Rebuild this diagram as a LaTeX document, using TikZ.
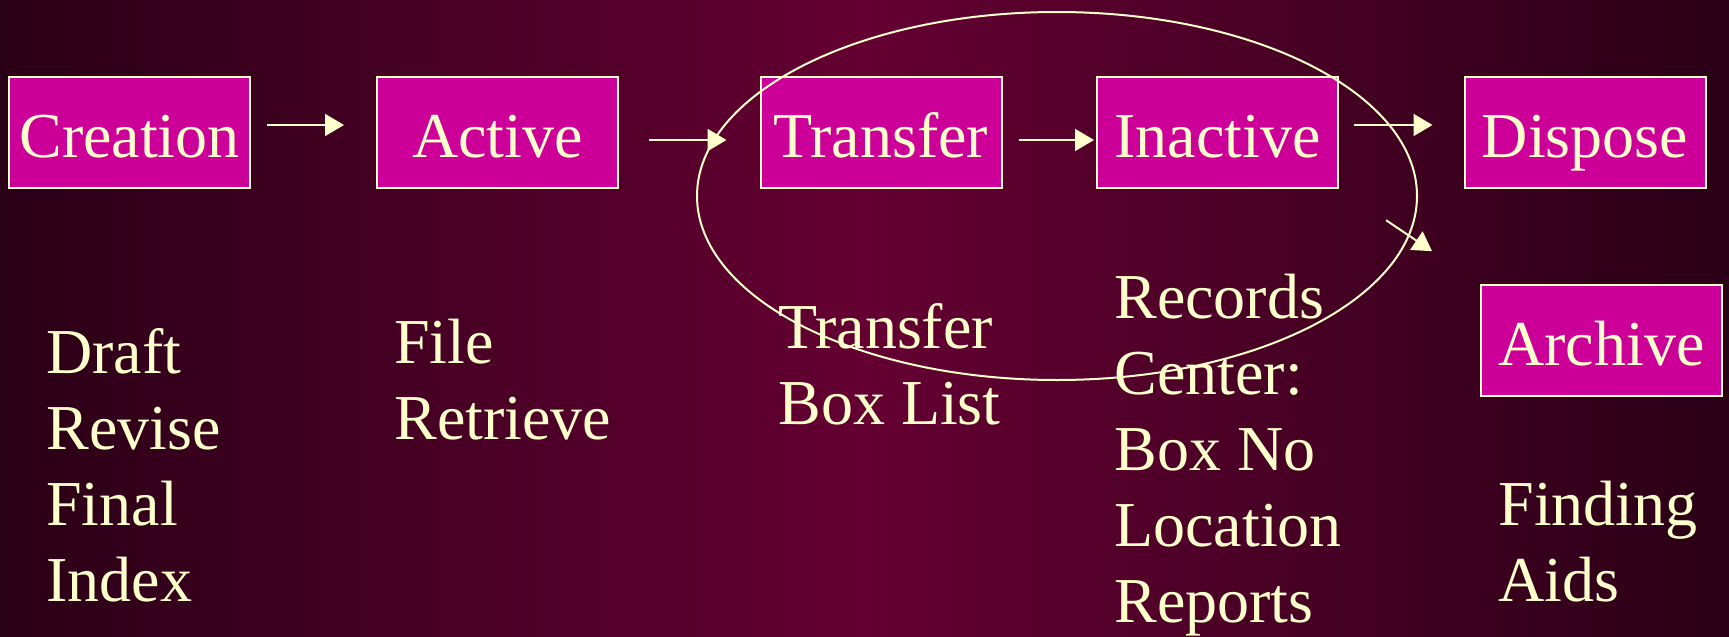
\documentclass[tikz,border=0pt]{standalone}
\usepackage{fontspec}
\setmainfont{Liberation Serif}
\usetikzlibrary{shapes.geometric,arrows.meta}
\definecolor{bgedge}{RGB}{42,0,22}
\definecolor{bgmid}{RGB}{100,0,50}
\definecolor{boxfill}{RGB}{204,0,153}
\definecolor{cream}{RGB}{255,255,204}

\begin{document}
\begin{tikzpicture}[x=0.5pt,y=-0.5pt,
  stage/.style={draw=cream, fill=boxfill, line width=1pt,
    minimum width=120.5pt, minimum height=55.5pt, inner sep=0pt,
    text=cream, font=\fontsize{32}{38}\selectfont,
    text height=25pt, text depth=0pt},
  % anchored at the baseline of the last line
  notes/.style={anchor=base west, inner sep=0pt, align=left,
    text=cream, font=\fontsize{32}{38}\selectfont},
  flow/.style={draw=cream, line width=1pt,
    -{Triangle[length=9.5pt,width=11pt]}},
]
% background
\shade[left color=bgedge, right color=bgedge, middle color=bgmid]
  (0,0) rectangle (1729,637);
\useasboundingbox (0,0) rectangle (1729,637);

% life-cycle stages
\node[stage] (creation) at (129.5,132) {Creation};
\node[stage] (active)   at (497.5,132) {Active};
\node[stage] (transfer) at (881,132)   {Transfer};
\node[stage] (inactive) at (1217.5,132) {Inactive};
\node[stage] (dispose)  at (1585,132)  {Dispose};
\node[stage] (archive)  at (1601.5,340) {Archive};

% flow arrows
\draw[flow, shorten <=8pt, shorten >=16pt]
  ([yshift=3.5pt]creation.east) -- ([yshift=3.5pt]active.west);
\draw[flow, shorten <=15pt, shorten >=16.5pt]
  ([yshift=-4pt]active.east) -- ([yshift=-4pt]transfer.west);
\draw[flow, shorten <=8pt, shorten >=1pt]
  ([yshift=-4pt]transfer.east) -- ([yshift=-4pt]inactive.west);
\draw[flow, shorten <=7.5pt, shorten >=15.5pt]
  ([yshift=3.5pt]inactive.east) -- ([yshift=3.5pt]dispose.west);
\draw[flow, shorten <=28.4pt, shorten >=28.9pt]
  (inactive.south east) -- (archive.north west);

% activities under each stage
\node[notes] (creationnotes) at (46,601)   {Draft\\Revise\\Final\\Index};
\node[notes] (activenotes)   at (394,439)  {File\\Retrieve};
\node[notes] (transfernotes) at (778,424)  {Transfer\\Box List};
\node[notes] (inactivenotes) at (1114,622) {Records\\Center:\\Box No\\Location\\Reports};
\node[notes] (archivenotes)  at (1498,601) {Finding\\Aids};

% records-centre loop
\node[draw=cream, line width=1pt, ellipse, minimum width=360pt,
  minimum height=184pt, inner sep=0pt] (retention) at (1057,196) {};
\end{tikzpicture}
\end{document}
